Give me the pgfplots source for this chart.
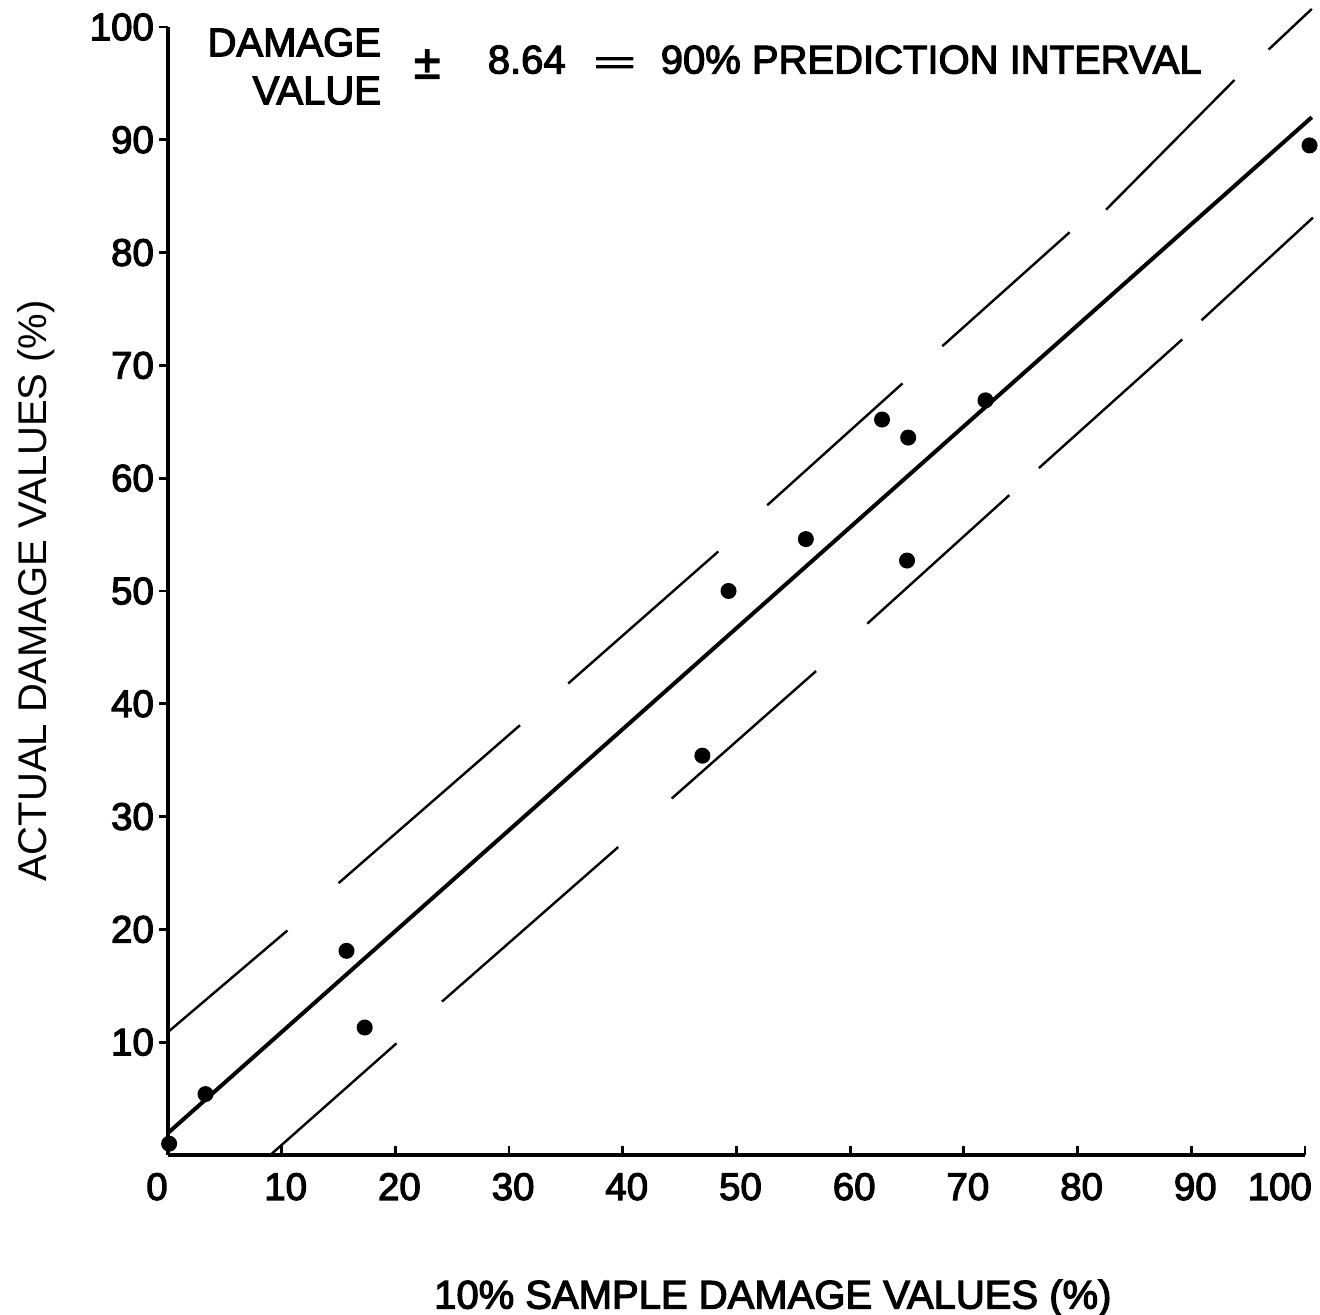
\documentclass[border=0pt]{standalone}
\usepackage{fontspec}
\setmainfont{Liberation Sans}
\newfontfamily\medfont{Liberation Sans}[FakeBold=3]
\usepackage{graphicx}
\usepackage{pgfplots}
\pgfplotsset{compat=1.18}

\begin{document}
\begin{tikzpicture}
\begin{axis}[
  name=ax,
  scale only axis,
  width=284.25pt, height=282pt,
  xmin=0, xmax=100, ymin=0, ymax=100,
  axis lines*=left,
  axis line style={line width=0.8pt},
  clip=false,
  xtick={0,10,...,100},
  xticklabels={\makebox[0pt]{\kern-7.5pt 0},10,20,30,40,50,60,70,80,90,\makebox[0pt]{\kern-14.6pt 100}},
  ytick={10,20,...,100},
  tick align=inside,
  major tick length=2.2pt,
  tick style={line width=0.7pt, black},
  ytick style={xshift=-2.2pt},
  /pgf/number format/assume math mode=true,
  ticklabel style={font=\medfont\fontsize{9.6}{11}\selectfont},
  xticklabel style={xshift=1pt, yshift=-1pt},
  xlabel={10\% SAMPLE DAMAGE VALUES (\%)},
  ylabel={ACTUAL DAMAGE VALUES (\%)},
  xlabel style={at={(rel axis cs:0.532,-0.127)}, anchor=center, font=\medfont\fontsize{10}{12}\selectfont},
  ylabel style={at={(rel axis cs:-0.116,0.5)}, anchor=center, font=\fontsize{10}{12}\selectfont},
  unbounded coords=jump,
]
% regression line
\addplot[black, line width=1.0pt] coordinates {(0,1.95) (100.6,92.0)};
% upper 90% limit, drawn as long dashes
\addplot[black, line width=0.6pt] coordinates {
  (0,10.9) (10.5,19.9) (nan,nan)
  (15.0,24.1) (30.96,38.1) (nan,nan)
  (35.2,41.8) (48.4,53.5) (nan,nan)
  (52.7,57.6) (64.6,68.4) (nan,nan)
  (68.1,71.7) (79.3,81.8) (nan,nan)
  (82.5,83.8) (93.8,95.3) (nan,nan)
  (96.8,98.0) (100.6,101.6)
};
% lower 90% limit
\addplot[black, line width=0.6pt] coordinates {
  (9.0,0) (20.1,9.9) (nan,nan)
  (24.1,13.6) (39.6,27.3) (nan,nan)
  (44.3,31.6) (57.0,42.9) (nan,nan)
  (61.5,47.1) (74.0,58.5) (nan,nan)
  (76.6,60.9) (89.2,72.3) (nan,nan)
  (90.9,74.0) (100.7,83.1)
};
% observations
\addplot[only marks, mark=*, mark size=1.8pt, black] coordinates {
  (0.1,1.0) (3.3,5.4) (15.7,18.1) (17.3,11.3) (47.0,35.4)
  (49.3,50.0) (56.1,54.6) (62.8,65.2) (65.1,63.6) (65.0,52.7)
  (71.9,66.9) (100.4,89.5)
};
\node[align=right, anchor=east, inner sep=0pt, font=\medfont\fontsize{10}{12}\selectfont] at (axis cs:18.8,96.5) {DAMAGE\\VALUE};
\node[font=\medfont\fontsize{12}{14}\selectfont, inner sep=0pt] at (axis cs:22.8,96.7) {±};
\node[anchor=west, font=\medfont\fontsize{10}{12}\selectfont, inner sep=0pt] at (axis cs:28.06,97.1) {8.64};
\node[font=\medfont\fontsize{10}{12}\selectfont, inner sep=0pt] at (axis cs:39.3,96.6) {\scalebox{1.8}[0.8]{=}};
\node[anchor=west, font=\medfont\fontsize{10}{12}\selectfont, inner sep=0pt] at (axis cs:43.27,97.1) {90\% PREDICTION INTERVAL};
\end{axis}
\pgfresetboundingbox
\path[use as bounding box] ([shift={(-42pt,-40pt)}]ax.south west) rectangle ([shift={(3.75pt,6.75pt)}]ax.north east);
\end{tikzpicture}
\end{document}
